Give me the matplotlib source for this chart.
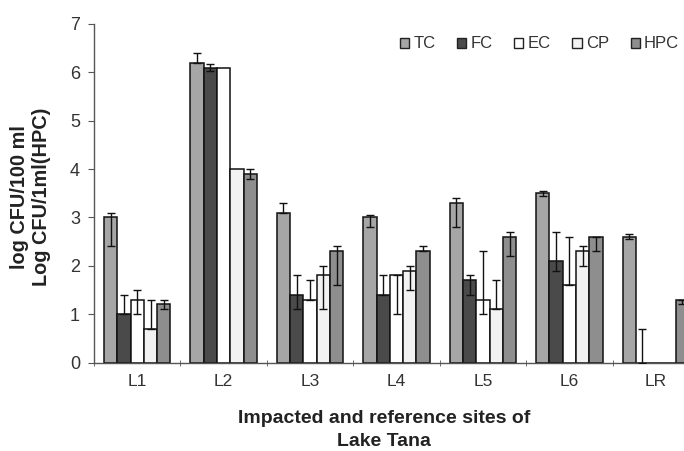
import numpy as np
import matplotlib
matplotlib.use("Agg")
import matplotlib.pyplot as plt
from matplotlib.patches import Patch

plt.rcParams['font.family'] = ['Liberation Sans', 'DejaVu Sans']

sites = ["L1", "L2", "L3", "L4", "L5", "L6", "LR"]
series = ["TC", "FC", "EC", "CP", "HPC"]

tc = [3.0, 6.2, 3.1, 3.0, 3.3, 3.5, 2.6]
fc = [1.0, 6.1, 1.4, 1.4, 1.7, 2.1, 0.0]
ec = [1.3, 6.1, 1.3, 1.8, 1.3, 1.6, 0.0]
cp = [0.7, 4.0, 1.8, 1.9, 1.1, 2.3, 0.0]
hpc = [1.2, 3.9, 2.3, 2.3, 2.6, 2.6, 1.3]

# error bar extents (below, above)
tc_lo = [0.6, 0.0, 0.0, 0.2, 0.5, 0.05, 0.05]
tc_hi = [0.1, 0.2, 0.2, 0.05, 0.1, 0.05, 0.05]
fc_lo = [0.0, 0.08, 0.3, 0.0, 0.3, 0.2, 0.0]
fc_hi = [0.4, 0.08, 0.4, 0.4, 0.1, 0.6, 0.7]
ec_lo = [0.3, 0.0, 0.0, 0.8, 0.3, 0.0, 0.0]
ec_hi = [0.2, 0.0, 0.4, 0.0, 1.0, 1.0, 0.0]
cp_lo = [0.0, 0.0, 0.7, 0.4, 0.0, 0.3, 0.0]
cp_hi = [0.6, 0.0, 0.2, 0.1, 0.6, 0.1, 0.0]
hpc_lo = [0.1, 0.1, 0.7, 0.0, 0.4, 0.3, 0.1]
hpc_hi = [0.1, 0.1, 0.1, 0.1, 0.1, 0.0, 0.0]

values = [tc, fc, ec, cp, hpc]
errs = [(tc_lo, tc_hi), (fc_lo, fc_hi), (ec_lo, ec_hi), (cp_lo, cp_hi), (hpc_lo, hpc_hi)]
colors = ["#a6a6a6", "#4a4a4a", "#ffffff", "#f2f2f2", "#8e8e8e"]

W, H = 684, 451
fig = plt.figure(figsize=(W / 100, H / 100), dpi=100)
# axes spans past the right edge of the canvas
ax = fig.add_axes([94 / W, (H - 362.5) / H, 605 / W, 338.5 / H])

x = np.arange(len(sites))
bw = 0.154
for i, (vals, (lo, hi), c) in enumerate(zip(values, errs, colors)):
    pos = x + (i - 2) * bw
    ax.bar(pos, vals, width=bw, color=c, edgecolor="#111111", linewidth=1.1, zorder=2)
    lo_a = np.array(lo)
    hi_a = np.array(hi)
    mask = (lo_a + hi_a) > 0
    ax.errorbar(pos[mask], np.array(vals)[mask], yerr=[lo_a[mask], hi_a[mask]],
                fmt="none", ecolor="#111111", elinewidth=1.0, capsize=3, capthick=1.0, zorder=3)

ax.set_xlim(-0.5, 6.5)
ax.set_ylim(0, 7)
ax.set_yticks(range(8))
ax.set_xticks(x)
ax.set_xticklabels(sites, fontsize=12.5, color="#333333")
ax.set_xticks(np.arange(-0.5, 7.0, 1.0), minor=True)
ax.tick_params(axis="x", which="major", length=0, pad=8)
ax.tick_params(axis="x", which="minor", length=4, direction="inout", color="#555555")
ax.tick_params(axis="y", labelsize=13, length=4, color="#555555", labelcolor="#333333", pad=6)
for s in ["top", "right"]:
    ax.spines[s].set_visible(False)
for s in ["left", "bottom"]:
    ax.spines[s].set_color("#555555")
    ax.spines[s].set_linewidth(1.0)

fig.text(31 / W, 1 - 197 / H, "log CFU/100 ml\nLog CFU/1ml(HPC)", rotation=90,
         ha="center", va="center", fontsize=14.3, fontweight="bold", color="#222222",
         linespacing=1.2)
fig.text(384 / W, 1 - 430 / H, "Impacted and reference sites of\nLake Tana",
         ha="center", va="center", fontsize=14, fontweight="bold", color="#222222",
         linespacing=1.4)

handles = [Patch(facecolor=c, edgecolor="#222222", linewidth=1.0) for c in colors]
fig.legend(handles, series, loc="center left", bbox_to_anchor=(385 / W, 1 - 44 / H),
           ncol=5, frameon=False, fontsize=12, handlelength=0.55, handleheight=0.55,
           handletextpad=0.25, columnspacing=1.3, labelcolor="#333333")

fig.savefig("out.png", dpi=100)
